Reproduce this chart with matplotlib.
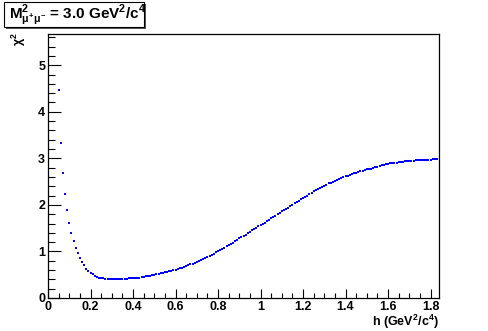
import numpy as np
import matplotlib
matplotlib.use("Agg")
import matplotlib.pyplot as plt
from matplotlib.patches import Rectangle
from matplotlib.ticker import MultipleLocator

plt.rcParams['font.family'] = ['Liberation Sans', 'DejaVu Sans']
plt.rcParams['font.weight'] = 'bold'
plt.rcParams['mathtext.fontset'] = 'custom'
plt.rcParams['mathtext.rm'] = 'Liberation Sans:bold'
plt.rcParams['mathtext.it'] = 'Liberation Sans:bold'
plt.rcParams['mathtext.bf'] = 'Liberation Sans:bold'

# scan points, h from 0.05 to 1.83 in steps of 0.01
h_start = 0.05
h_step = 0.01

chi2 = [
    4.47, 3.32, 2.68, 2.24, 1.89, 1.61, 1.40, 1.23, 1.08, 0.96,   # 0.05-0.14
    0.85, 0.78, 0.70, 0.63, 0.58, 0.54, 0.51, 0.48, 0.46, 0.44,   # 0.15-0.24
    0.43, 0.42, 0.41, 0.41, 0.40, 0.40, 0.40, 0.40, 0.40, 0.40,   # 0.25-0.34
    0.41, 0.41, 0.41, 0.42, 0.42, 0.43, 0.43, 0.44, 0.44, 0.45,   # 0.35-0.44
    0.46, 0.47, 0.47, 0.48, 0.49, 0.50, 0.51, 0.52, 0.53, 0.54,   # 0.45-0.54
    0.55, 0.56, 0.57, 0.58, 0.60, 0.61, 0.62, 0.64, 0.65, 0.67,   # 0.55-0.64
    0.68, 0.70, 0.72, 0.74, 0.76, 0.78, 0.80, 0.82, 0.84, 0.86,   # 0.65-0.74
    0.88, 0.90, 0.93, 0.95, 0.98, 1.00, 1.03, 1.05, 1.08, 1.11,   # 0.75-0.84
    1.13, 1.16, 1.19, 1.22, 1.25, 1.28, 1.31, 1.34, 1.36, 1.39,   # 0.85-0.94
    1.42, 1.45, 1.48, 1.51, 1.54, 1.57, 1.60, 1.62, 1.65, 1.68,   # 0.95-1.04
    1.71, 1.74, 1.77, 1.80, 1.83, 1.86, 1.88, 1.91, 1.94, 1.97,   # 1.05-1.14
    2.00, 2.03, 2.06, 2.09, 2.12, 2.15, 2.17, 2.20, 2.23, 2.26,   # 1.15-1.24
    2.29, 2.32, 2.34, 2.37, 2.39, 2.41, 2.43, 2.46, 2.48, 2.50,   # 1.25-1.34
    2.52, 2.54, 2.56, 2.58, 2.60, 2.61, 2.63, 2.65, 2.66, 2.68,   # 1.35-1.44
    2.69, 2.70, 2.72, 2.73, 2.75, 2.76, 2.77, 2.78, 2.80, 2.81,   # 1.45-1.54
    2.82, 2.84, 2.85, 2.86, 2.87, 2.88, 2.89, 2.90, 2.90, 2.91,   # 1.55-1.64
    2.92, 2.93, 2.93, 2.94, 2.94, 2.95, 2.95, 2.95, 2.96, 2.96,   # 1.65-1.74
    2.96, 2.96, 2.97, 2.97, 2.97, 2.97, 2.98, 2.98, 2.98,         # 1.75-1.83
]
h = h_start + h_step * np.arange(len(chi2))

x_ticks = [0, 0.2, 0.4, 0.6, 0.8, 1, 1.2, 1.4, 1.6, 1.8]
x_tick_labels = ["0", "0.2", "0.4", "0.6", "0.8", "1", "1.2", "1.4", "1.6", "1.8"]
y_ticks = [0, 1, 2, 3, 4, 5]
y_tick_labels = ["0", "1", "2", "3", "4", "5"]

W, H = 488, 331
fig = plt.figure(figsize=(W / 100, H / 100), dpi=100)
fig.patch.set_facecolor("white")
ax = fig.add_axes([48 / W, 33 / H, (439 - 48) / W, (298 - 34) / H])

ax.plot(h, chi2, linestyle="none", marker="s", markersize=2.0,
        markeredgewidth=0, color="#0000ff")

ax.set_xlim(0, 1.84)
ax.set_ylim(0, 5.67)
ax.set_xticks(x_ticks)
ax.set_xticklabels(x_tick_labels)
ax.set_yticks(y_ticks)
ax.set_yticklabels(y_tick_labels)
ax.xaxis.set_minor_locator(MultipleLocator(0.05))
ax.yaxis.set_minor_locator(MultipleLocator(0.2))

ax.tick_params(axis="both", which="both", direction="in", top=False, right=False,
               width=0.8, labelsize=9, colors="black")
ax.tick_params(axis="x", which="major", length=6.5, pad=2)
ax.tick_params(axis="x", which="minor", length=3.6)
ax.tick_params(axis="y", which="major", length=9.4, pad=2)
ax.tick_params(axis="y", which="minor", length=5)
for s in ax.spines.values():
    s.set_linewidth(0.9)

fig.text(439 / W, 1 - 322 / H, r"h (GeV$^{2}$/c$^{4}$)", ha="right", va="center",
         fontsize=9, fontweight="bold")
fig.text(19 / W, 1 - 39 / H, r"$\chi^{2}$", rotation=90, ha="center", va="center",
         fontsize=9)

# title box with shadow
fig.patches.append(Rectangle((6 / W, 1 - 29 / H), 140 / W, 25 / H,
                             transform=fig.transFigure, facecolor="#555555",
                             edgecolor="none", zorder=1))
fig.patches.append(Rectangle((4 / W, 1 - 27 / H), 140 / W, 25 / H,
                             transform=fig.transFigure, facecolor="white",
                             edgecolor="black", linewidth=0.8, zorder=2))
fig.text(9 / W, 1 - 15 / H, r"M$^{2}_{\mu^{+}\mu^{-}}$ = 3.0 GeV$^{2}$/c$^{4}$",
         ha="left", va="center", fontsize=11, fontweight="bold", zorder=3)

fig.savefig("out.png", dpi=100)
